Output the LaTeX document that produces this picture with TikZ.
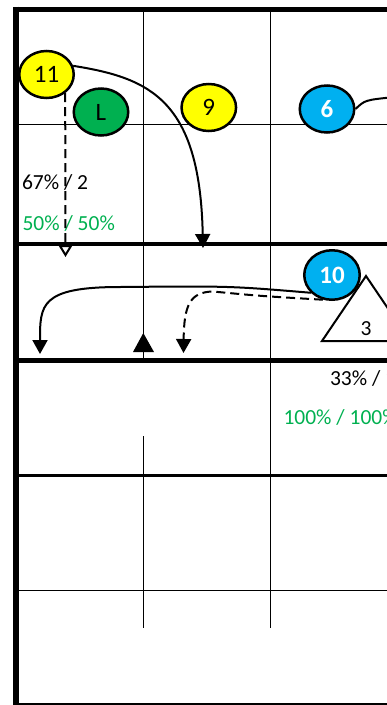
\documentclass[tikz,border=0pt]{standalone}
\usepackage{fontspec}
\setmainfont{Carlito}
\usetikzlibrary{arrows.meta,shapes.geometric}
\definecolor{pyellow}{HTML}{FFFF00}
\definecolor{pgreen}{HTML}{00B050}
\definecolor{pblue}{HTML}{00B0F0}

\begin{document}
\begin{tikzpicture}[>={Triangle[length=14pt,width=15pt]},x=1pt,y=-1pt,
  every node/.style={font=\fontsize{21.5}{25}\selectfont},
  player/.style={ellipse,draw,line width=2.5pt,minimum width=54.5pt,minimum height=47pt,inner sep=0pt,font=\fontsize{25}{29}\selectfont},
  blueplayer/.style={player,fill=pblue,text=white,font=\fontsize{25}{29}\selectfont\bfseries},
  gridline/.style={line width=1.5pt},
  route/.style={line width=2pt},
  pass/.style={route,dash pattern=on 9pt off 5pt}]
\useasboundingbox (0,0) rectangle (387,705);
\draw[gridline] (19,124.3) -- (387,124.3);
\draw[gridline] (19,590.5) -- (387,590.5);
\draw[gridline] (19,704.2) -- (387,704.2);
\draw[gridline] (143.3,9) -- (143.3,359);
\draw[gridline] (143.3,436) -- (143.3,628);
\draw[gridline] (270.5,9) -- (270.5,628);
\draw[line width=4pt] (19,243.5) -- (387,243.5);
\draw[line width=5pt] (19,360) -- (387,360);
\draw[line width=3.5pt] (19,475.3) -- (387,475.3);
\draw[line width=5pt] (13.3,9.2) -- (387,9.2);
\draw[line width=5.7pt] (16.2,6.7) -- (16.2,705);
\node[anchor=base west] (lbl67) at (18.5,189.5) {67\% / 2};
\node[anchor=base west,text=pgreen] (lbl50) at (19,230) {50\% / 50\%};
\node[anchor=base west] (lbl33) at (326.5,385) {33\% / 1};
\node[anchor=base west,text=pgreen] (lbl100) at (280,424) {100\% / 100\%};
\coordinate (d11) at (65.5,257);
\coordinate (e11) at (203,248);
\coordinate (o6) at (395,97);
\coordinate (e10) at (40,354);
\coordinate (f10) at (183.5,353);
\node[player,fill=pyellow] (p11) at (46.5,74.5) {11};
\node[player,fill=pgreen] (pL) at (101,112) {L};
\node[player,fill=pyellow] (p9) at (208.8,107.5) {9};
\node[blueplayer] (p6) at (327,109) {6};
\fill (143.3,333) -- (133,352) -- (154,352) -- cycle;
\draw[route,fill=white] (366,276) -- (322,341) -- (410,341) -- cycle;
\node (t3) at (366,328.3) {3};
\node[blueplayer,minimum width=55.5pt,minimum height=49.5pt] (p10) at (332,275) {10};
\draw[pass,-{Triangle[open,length=12pt,width=14pt]}] (p11.-45) -- (d11);
\draw[route,->] (p11.18) .. controls (150,78) and (200,100) .. (e11);
\draw[route] (p6.east) .. controls (365,100) .. (o6);
\draw[route,->] (p10.220) .. controls (230,286) .. (120,287) .. controls (40,287) and (40,305) .. (e10);
\draw[pass,->] (p10.250) .. controls (260,296) .. (213,291.5) .. controls (190,292) and (184,305) .. (f10);
\end{tikzpicture}
\end{document}
